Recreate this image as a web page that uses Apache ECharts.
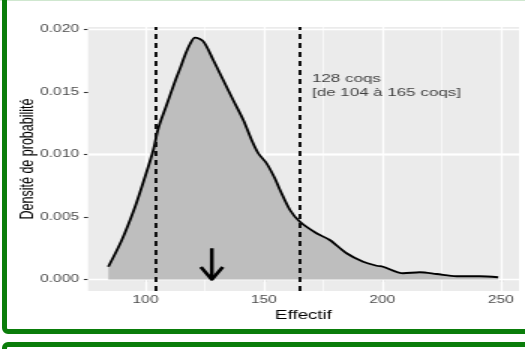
<!DOCTYPE html>
<html><head><meta charset="utf-8">
<script src="https://cdn.jsdelivr.net/npm/echarts@6/dist/echarts.min.js"></script>
<style>
html,body{margin:0;padding:0;background:#fff;width:525px;height:349px;overflow:hidden;position:relative}
#wrap{position:absolute;left:0;top:0;width:350px;height:349px;transform:scaleX(1.5);transform-origin:0 0}
#chart{width:350px;height:349px}
.frame{position:absolute;box-sizing:border-box;border:5px solid #0a7d0a;border-radius:6px}
</style></head><body>
<div id="wrap"><div id="chart"></div></div>
<div style="position:absolute;left:0;top:0;width:525px;height:1px;background:#cfe7cf"></div>
<div class="frame" style="left:2px;top:-20px;width:600px;height:354px"></div>
<div class="frame" style="left:2px;top:342px;width:600px;height:40px"></div>
<script>
// ---- data ----
const densX = [84.3, 90.0, 95.6, 99.8, 103.3, 105.4, 108.9, 112.4, 114.6, 116.7, 118.8, 120.9, 124.4, 128.6, 132.8, 137.0, 141.3, 144.8, 147.6, 151.1, 154.6, 156.8, 161.0, 165.2, 172.2, 177.8, 184.9, 191.9, 197.6, 200.3, 208.8, 215.8, 222.9, 231.3, 241.1, 248.9];
const densY = [0.00102, 0.00316, 0.00582, 0.00822, 0.01036, 0.0121, 0.01396, 0.01582, 0.01689, 0.01796, 0.01884, 0.01935, 0.01905, 0.01756, 0.01596, 0.01436, 0.01276, 0.01116, 0.0101, 0.0093, 0.0081, 0.00716, 0.00556, 0.00462, 0.0037, 0.00316, 0.0021, 0.00142, 0.0011, 0.00102, 0.0005, 0.00058, 0.00044, 0.00026, 0.00026, 0.00018];
const ciBounds = [104, 165];
const arrowX = 128;
const arrowFromY = 0.0025;
const arrowToY = 0;
const annX = 170;
const annY = 0.01545;
const annLines = ['128 coqs', '[de 104 à 165 coqs]'];
const xTicks = [100, 150, 200, 250];
const xMinor = [125, 175, 225];
const yTicks = [0, 0.005, 0.01, 0.015, 0.02];
const yMinor = [0.0025, 0.0075, 0.0125, 0.0175];
const xTitle = 'Effectif';
const yTitle = 'Densité de probabilité';

const FONT = 'Liberation Sans, Arial, Helvetica, sans-serif';
const chart = echarts.init(document.getElementById('chart'), null, {renderer: 'canvas'});

const gridLines = [].concat(
  xTicks.map(v => ({xAxis: v, lineStyle: {width: 1.3}})),
  xMinor.map(v => ({xAxis: v, lineStyle: {width: 0.65}})),
  yTicks.map(v => ({yAxis: v, lineStyle: {width: 1.4}})),
  yMinor.map(v => ({yAxis: v, lineStyle: {width: 0.7}}))
);

chart.setOption({
  animation: false,
  backgroundColor: 'transparent',
  grid: {left: 58.7, right: 4, top: 27, bottom: 58, show: true, backgroundColor: '#ebebeb', borderWidth: 0,
    containLabel: false, outerBoundsMode: 'none'},
  xAxis: {
    type: 'value', min: 75.74, max: 257.7,
    name: xTitle, nameLocation: 'middle', nameGap: 18, nameMoveOverlap: false,
    nameTextStyle: {fontFamily: FONT, fontSize: 12.5, color: '#000'},
    axisLine: {show: false},
    axisTick: {show: true, length: 3, lineStyle: {color: '#333', width: 1.1}, customValues: xTicks},
    axisLabel: {customValues: xTicks, margin: 4, fontFamily: FONT, fontSize: 10.4, color: '#4d4d4d', formatter: v => String(v)},
    splitLine: {show: false}
  },
  yAxis: {
    type: 'value', min: -0.00092, max: 0.0202,
    name: yTitle, nameLocation: 'middle', nameGap: 34, nameRotate: 90, nameMoveOverlap: false,
    nameTextStyle: {fontFamily: FONT, fontSize: 12.5, color: '#000'},
    axisLine: {show: false},
    axisTick: {show: true, length: 2.8, lineStyle: {color: '#333', width: 1.1}, customValues: yTicks},
    axisLabel: {customValues: yTicks, margin: 6, fontFamily: FONT, fontSize: 10.4, color: '#4d4d4d', formatter: v => v.toFixed(3)},
    splitLine: {show: false}
  },
  series: [
    {
      type: 'line', z: 1, silent: true, symbol: 'none', showSymbol: false,
      data: [[xTicks[0], yTicks[0]]],
      lineStyle: {width: 0, opacity: 0},
      markLine: {
        z: 1, silent: true, symbol: ['none', 'none'], label: {show: false},
        lineStyle: {color: '#ffffff', type: 'solid'}, emphasis: {disabled: true},
        data: gridLines
      }
    },
    {
      type: 'line', z: 2, smooth: 0.3, symbol: 'none', showSymbol: false, silent: true,
      data: densX.map((x, i) => [x, densY[i]]),
      lineStyle: {color: '#000', width: 1.8},
      areaStyle: {color: '#bebebe', opacity: 1},
      markLine: {
        z: 5, silent: true, symbol: ['none', 'none'], label: {show: false},
        lineStyle: {color: '#111', width: 2, type: [5, 4]}, emphasis: {disabled: true},
        data: ciBounds.map(v => ({xAxis: v}))
      }
    },
    {
      type: 'custom', coordinateSystem: 'cartesian2d', z: 6, silent: true,
      data: [[arrowX, arrowFromY, arrowToY]],
      renderItem: function (params, api) {
        const top = api.coord([api.value(0), api.value(1)]);
        const tip = api.coord([api.value(0), api.value(2)]);
        const st = {stroke: '#000', lineWidth: 2.5, fill: null, lineJoin: 'round', lineCap: 'butt'};
        return {type: 'group', children: [
          {type: 'line', shape: {x1: top[0], y1: top[1], x2: tip[0], y2: tip[1] - 1}, style: st},
          {type: 'polyline', shape: {points: [[tip[0] - 7.3, tip[1] - 12.5], [tip[0], tip[1]], [tip[0] + 7.3, tip[1] - 12.5]]}, style: st}
        ]};
      }
    },
    {
      type: 'scatter', z: 7, silent: true, symbolSize: 1,
      itemStyle: {color: 'rgba(0,0,0,0)'},
      data: [[annX, annY]],
      label: {show: true, position: 'right', distance: 0, formatter: annLines.join('\n'),
        fontFamily: FONT, fontSize: 11.3, lineHeight: 14, color: '#111', align: 'left'}
    }
  ]
});
</script>
</body></html>
